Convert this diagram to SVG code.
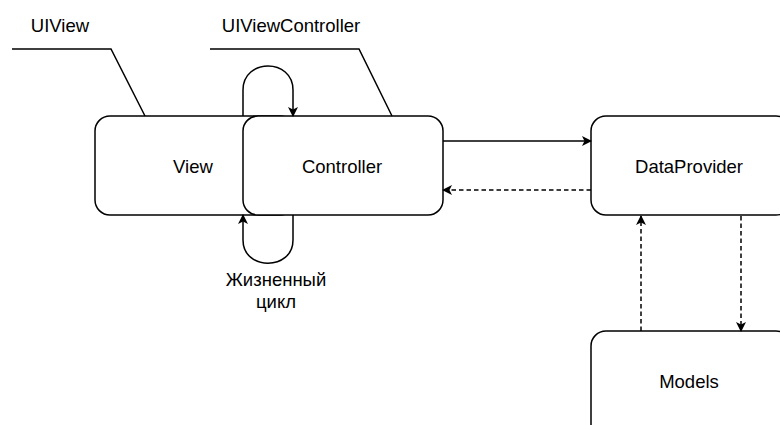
<svg xmlns="http://www.w3.org/2000/svg" width="780" height="425" viewBox="0 0 780 425">
<defs>
<marker id="arr" viewBox="0 0 10 10" refX="9" refY="5" markerWidth="10" markerHeight="10" markerUnits="userSpaceOnUse" orient="auto">
<path d="M0,0 L10,5 L0,10 L2.5,5 Z" fill="#000"/>
</marker>
</defs>
<style>
.box{fill:#fff;stroke:#000;stroke-width:1.5}
.t{font-family:"Liberation Sans",Arial,sans-serif;font-size:18.5px;fill:#000;text-anchor:middle}
.c{fill:none;stroke:#000;stroke-width:1.5}
.d{stroke-dasharray:4.5 3}
</style>
<rect width="780" height="425" fill="#fff"/>
<g id="view"><rect class="box" x="95" y="116" width="200" height="99" rx="15"/><text class="t" x="193" y="173">View</text></g>
<g id="controller"><rect class="box" x="243" y="116" width="200" height="99" rx="15"/><text class="t" x="342" y="173">Controller</text></g>
<g id="dataprovider"><rect class="box" x="591" y="116" width="200" height="99" rx="15"/><text class="t" x="689" y="173">DataProvider</text></g>
<g id="models"><rect class="box" x="591" y="331" width="200" height="110" rx="15"/><text class="t" x="689" y="388">Models</text></g>
<g id="labels">
<text class="t" x="60" y="32">UIView</text>
<text class="t" x="291" y="32">UIViewController</text>
<text class="t" x="276" y="286">Жизненный</text>
<text class="t" x="276" y="308">цикл</text>
</g>
<g id="connectors">
<path class="c" d="M12,49 L111,49 L145,116"/>
<path class="c" d="M210,49 L359,49 L392,116"/>
<path class="c" d="M243,116 L243,90 C243,58 293,58 293,90 L293,116" marker-end="url(#arr)"/>
<path class="c" d="M293,215 L293,240 C293,271 243,271 243,240 L243,215" marker-end="url(#arr)"/>
<path class="c" d="M443,141 L591,141" marker-end="url(#arr)"/>
<path class="c d" d="M591,190 L443,190" marker-end="url(#arr)"/>
<path class="c d" d="M641,331 L641,216" marker-end="url(#arr)"/>
<path class="c d" d="M741,216 L741,331" marker-end="url(#arr)"/>
</g>
</svg>
